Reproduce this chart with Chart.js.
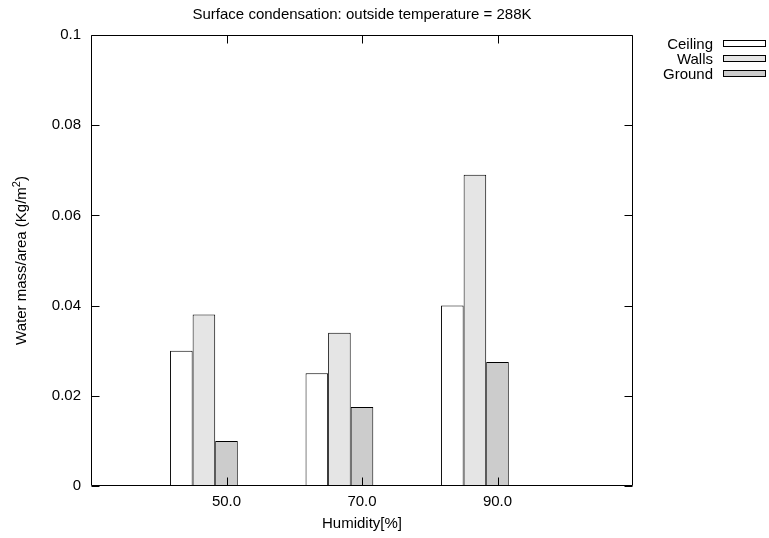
<!DOCTYPE html>
<html>
<head>
<meta charset="utf-8">
<style>
  html, body { margin: 0; padding: 0; background: #fff; }
  canvas { display: block; }
</style>
<script src="https://cdn.jsdelivr.net/npm/chart.js@4/dist/chart.umd.min.js"></script>
</head>
<body>
<canvas id="chart" width="769" height="538"></canvas>
<script>
// Humidity levels on the x axis
const humidity = ['50.0', '70.0', '90.0'];
// Condensed water mass per area (kg/m^2) for each surface
const ceiling = [0.030, 0.025, 0.040];
const walls   = [0.038, 0.034, 0.069];
const ground  = [0.010, 0.0175, 0.0275];
// y axis tick labels, from 0 upwards in steps of 0.02
const yTickLabels = ['0', '0.02', '0.04', '0.06', '0.08', '0.1'];

const seriesNames  = ['Ceiling', 'Walls', 'Ground'];
const seriesFills  = ['#ffffff', '#e5e5e5', '#cccccc'];
const chartTitle   = 'Surface condensation: outside temperature = 288K';
const xTitle       = 'Humidity[%]';
const yTitleMain   = 'Water mass/area (Kg/m';
const yTitleSup    = '2';
const yTitleEnd    = ')';

const FONT = "'Liberation Sans', Arial, Helvetica, sans-serif";
const FS = 15;
const MAIN_FONT = FS + 'px ' + FONT;
const SUP_FONT = '11px ' + FONT;

// One empty slot on each side of the categories gives the axis its margins.
const labels = [''].concat(humidity, ['']);
const pad = arr => [null].concat(arr, [null]);

const realSets = [ceiling, walls, ground].map((vals, i) => ({
  label: seriesNames[i],
  data: pad(vals),
  backgroundColor: seriesFills[i],
  borderColor: '#000',
  borderWidth: 1,
  borderSkipped: false,
  categoryPercentage: 5 / 6,
  barPercentage: 1
}));
// Two empty trailing groups keep the cluster laid out like a gnuplot histogram.
const spacerSets = [0, 1].map(() => ({
  label: '',
  data: pad([null, null, null]),
  backgroundColor: 'rgba(0,0,0,0)',
  borderWidth: 0,
  categoryPercentage: 5 / 6,
  barPercentage: 1,
  isSpacer: true
}));

const framePlugin = {
  id: 'frame',
  afterDatasetsDraw(chart) {
    const ctx = chart.ctx;
    const a = chart.chartArea;
    const xs = chart.scales.x, ys = chart.scales.y;
    const L = Math.round(a.left) + 0.5, R = Math.round(a.right) - 0.5;
    const T = Math.round(a.top) + 0.5, B = Math.round(a.bottom) - 0.5;
    const tick = 8;
    ctx.save();
    ctx.strokeStyle = '#000';
    ctx.lineWidth = 1;
    ctx.beginPath();
    ctx.rect(L, T, R - L, B - T);
    // y ticks, mirrored on the right edge
    ys.ticks.forEach(t => {
      const y = Math.round(ys.getPixelForValue(t.value)) + 0.5;
      ctx.moveTo(L, y); ctx.lineTo(L + tick, y);
      ctx.moveTo(R, y); ctx.lineTo(R - tick, y);
    });
    // x ticks at the labelled categories, mirrored on top
    labels.forEach((lab, i) => {
      if (!lab) return;
      const x = Math.round(xs.getPixelForValue(i)) + 0.5;
      ctx.moveTo(x, B); ctx.lineTo(x, B - tick);
      ctx.moveTo(x, T); ctx.lineTo(x, T + tick);
    });
    ctx.stroke();

    ctx.fillStyle = '#000';
    ctx.textBaseline = 'alphabetic';

    // title centred over the plot
    ctx.font = MAIN_FONT;
    ctx.textAlign = 'center';
    ctx.fillText(chartTitle, (a.left + a.right) / 2, 18.5);

    // rotated y-axis title with a raised exponent
    ctx.font = MAIN_FONT;
    const wMain = ctx.measureText(yTitleMain).width;
    const wEnd = ctx.measureText(yTitleEnd).width;
    ctx.font = SUP_FONT;
    const wSup = ctx.measureText(yTitleSup).width;
    const total = wMain + wSup + wEnd;
    ctx.save();
    ctx.translate(26, (a.top + a.bottom) / 2);
    ctx.rotate(-Math.PI / 2);
    ctx.textAlign = 'left';
    const x0 = -total / 2;
    ctx.font = MAIN_FONT;
    ctx.fillText(yTitleMain, x0, 0);
    ctx.font = SUP_FONT;
    ctx.fillText(yTitleSup, x0 + wMain, -6);
    ctx.font = MAIN_FONT;
    ctx.fillText(yTitleEnd, x0 + wMain + wSup, 0);
    ctx.restore();

    // key: right-aligned names followed by a swatch
    ctx.font = MAIN_FONT;
    const textRight = 713, boxL = 723, boxW = 43, boxH = 7;
    chart.data.datasets.filter(d => !d.isSpacer).forEach((d, i) => {
      const cy = 43.5 + i * 14.75;
      ctx.textAlign = 'right';
      ctx.fillStyle = '#000';
      ctx.fillText(d.label, textRight, cy + 5.5);
      ctx.fillStyle = d.backgroundColor;
      ctx.fillRect(boxL, Math.round(cy - boxH / 2), boxW, boxH);
      ctx.strokeRect(boxL + 0.5, Math.round(cy - boxH / 2) + 0.5, boxW - 1, boxH - 1);
    });
    ctx.restore();
  }
};

Chart.defaults.color = '#000';
Chart.defaults.font.family = FONT;
Chart.defaults.font.size = FS;

new Chart(document.getElementById('chart'), {
  type: 'bar',
  data: { labels: labels, datasets: realSets.concat(spacerSets) },
  options: {
    responsive: false,
    animation: false,
    layout: { padding: { left: 0, right: 136, top: 35, bottom: 0 } },
    plugins: {
      legend: { display: false },
      title: { display: false },
      tooltip: { enabled: false }
    },
    scales: {
      x: {
        type: 'category',
        offset: false,
        grid: { display: false, drawTicks: false },
        border: { display: false },
        ticks: { autoSkip: false, maxRotation: 0, padding: 7, font: { size: FS } },
        title: { display: true, text: xTitle, padding: { top: 0, bottom: 5 }, font: { size: FS } },
        afterFit: s => { s.height = 52; }
      },
      y: {
        min: 0,
        max: 0.1,
        ticks: {
          stepSize: 0.02,
          padding: 10,
          font: { size: FS },
          callback: (v, i) => yTickLabels[i]
        },
        grid: { display: false, drawTicks: false },
        border: { display: false },
        title: { display: false },
        afterFit: s => { s.width = 91; }
      }
    }
  },
  plugins: [framePlugin]
});
</script>
</body>
</html>
